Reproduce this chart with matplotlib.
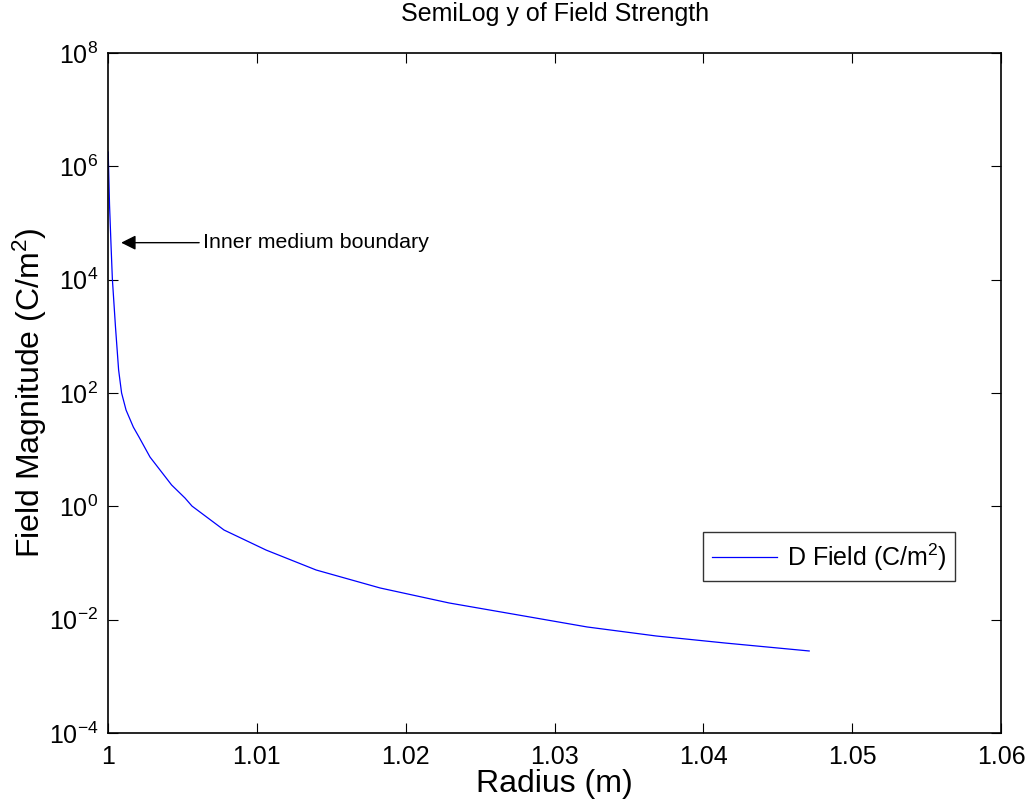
"""
Semilog-y plot of the D field magnitude against radius,
drawn in the look of a MATLAB figure.
"""
import numpy as np
import matplotlib
matplotlib.use('Agg')
import matplotlib.pyplot as plt
from matplotlib.ticker import FixedLocator, FuncFormatter, NullLocator

plt.rcParams['font.family'] = ['Liberation Sans', 'DejaVu Sans']
plt.rcParams['mathtext.default'] = 'regular'

# values
RADIUS = [1.00001, 1.00010, 1.00020, 1.00029, 1.00050, 1.00071, 1.00091,
          1.00121, 1.00170, 1.00208, 1.00282, 1.00427, 1.00517, 1.00564,
          1.00779, 1.01062, 1.01398, 1.01828, 1.02291, 1.02755, 1.03218,
          1.03682, 1.04145, 1.04710]
D_FIELD = [1.79e6, 2.08e5, 4.1e4, 1.03e4, 1.46e3, 255.0, 100.0,
           50.0, 25.0, 16.7, 7.4, 2.38, 1.40, 1.01,
           0.382, 0.169, 0.0752, 0.0362, 0.0197, 0.0121, 0.00743,
           0.00515, 0.00387, 0.0028]
X_TICKS = [1.0, 1.01, 1.02, 1.03, 1.04, 1.05, 1.06]
Y_TICKS = [1e-4, 1e-2, 1e0, 1e2, 1e4, 1e6, 1e8]

fig = plt.figure(figsize=(10.29, 8.06), dpi=100)
ax = fig.add_axes([0.105, 0.0906, 0.868, 0.8436])

ax.semilogy(RADIUS, D_FIELD, color='blue', linewidth=0.9,
            label='D Field (C/m$^2$)')

ax.set_xlim(1.0, 1.06)
ax.set_ylim(1e-4, 1e8)
ax.xaxis.set_major_locator(FixedLocator(X_TICKS))
ax.xaxis.set_major_formatter(FuncFormatter(lambda v, p: '%g' % v))
ax.yaxis.set_major_locator(FixedLocator(Y_TICKS))
ax.yaxis.set_major_formatter(
    FuncFormatter(lambda v, p: r'$10^{%d}$' % int(round(np.log10(v)))))
ax.yaxis.set_minor_locator(NullLocator())
ax.xaxis.set_minor_locator(NullLocator())

ax.tick_params(which='both', direction='in', top=True, right=True,
               length=7, width=0.8, labelsize=18)
ax.tick_params(axis='x', pad=9)
ax.tick_params(axis='y', pad=7)
for spine in ax.spines.values():
    spine.set_linewidth(1.2)

ax.set_title('SemiLog y of Field Strength', fontsize=18, pad=23)
ax.set_xlabel('Radius (m)', fontsize=23, labelpad=0)
ax.set_ylabel('Field Magnitude (C/m$^2$)', fontsize=23, labelpad=0)

ax.annotate('Inner medium boundary', xy=(1.00088, 4.5e4),
            xytext=(1.0064, 4.5e4), fontsize=15.4, va='center', ha='left',
            arrowprops=dict(arrowstyle='-|>', color='black', lw=1.0,
                            mutation_scale=22, shrinkA=1, shrinkB=0))

leg = ax.legend(loc='upper left', bbox_to_anchor=(0.666, 0.295),
                fontsize=18, frameon=True, fancybox=False,
                handlelength=2.6, borderpad=0.35, handletextpad=0.4,
                borderaxespad=0)
leg.get_frame().set_edgecolor('black')
leg.get_frame().set_linewidth(1.0)

plt.savefig('out.png', dpi=100)
plt.close()
